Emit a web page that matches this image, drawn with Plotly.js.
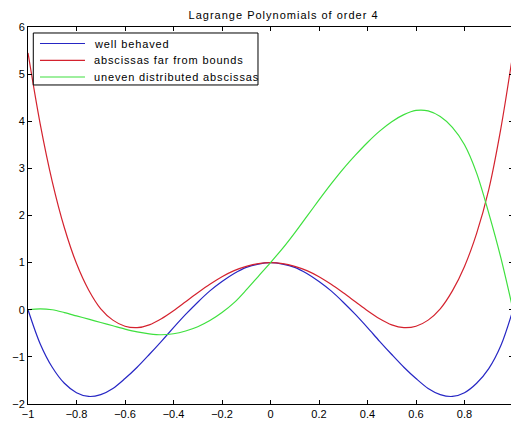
<!DOCTYPE html>
<html>
<head>
<meta charset="utf-8">
<script src="https://cdn.plot.ly/plotly-3.0.1.min.js"></script>
<style>
html, body { margin: 0; padding: 0; overflow: hidden; background: #ffffff; }
#chart { width: 514px; height: 424px; }
</style>
</head>
<body>
<div id="chart"></div>
<script>
var xValues = [-1, -0.95, -0.9, -0.85, -0.8, -0.75, -0.7, -0.65, -0.6, -0.55, -0.5, -0.45, -0.4, -0.35, -0.3, -0.25, -0.2, -0.15, -0.1, -0.05, 0,
               0.05, 0.1, 0.15, 0.2, 0.25, 0.3, 0.35, 0.4, 0.45, 0.5, 0.55, 0.6, 0.65, 0.7, 0.75, 0.8, 0.85, 0.9, 0.95, 1];

var wellBehaved = [0, -0.72, -1.22, -1.56, -1.76, -1.84, -1.80, -1.67, -1.46, -1.22, -0.95, -0.67, -0.38, -0.10, 0.16, 0.40, 0.60, 0.77, 0.90, 0.97, 1.0,
                   0.97, 0.90, 0.77, 0.60, 0.40, 0.16, -0.10, -0.38, -0.67, -0.95, -1.22, -1.46, -1.67, -1.80, -1.84, -1.76, -1.56, -1.25, -0.76, 0];

var farFromBounds = [5.45, 3.95, 2.72, 1.74, 0.98, 0.42, 0.02, -0.22, -0.35, -0.38, -0.32, -0.19, -0.02, 0.17, 0.36, 0.54, 0.70, 0.83, 0.92, 0.98, 1.0,
                     0.98, 0.92, 0.83, 0.70, 0.54, 0.36, 0.17, -0.02, -0.19, -0.32, -0.38, -0.35, -0.22, 0.02, 0.40, 0.92, 1.62, 2.55, 3.85, 5.45];

var unevenAbscissas = [0, 0.02, 0.0, -0.06, -0.13, -0.20, -0.27, -0.34, -0.41, -0.47, -0.51, -0.53, -0.51, -0.45, -0.36, -0.23, -0.06, 0.15, 0.42, 0.71, 1.0,
                       1.3, 1.63, 1.98, 2.33, 2.67, 2.99, 3.28, 3.55, 3.79, 3.99, 4.14, 4.23, 4.22, 4.10, 3.87, 3.50, 2.90, 2.05, 1.1, 0.0];

var seriesNames = ["well behaved", "abscissas far from bounds", "uneven distributed abscissas"];
var seriesColors = ["#2626c4", "#d4222e", "#3ee03e"];
var xTickValues = [-1, -0.8, -0.6, -0.4, -0.2, 0, 0.2, 0.4, 0.6, 0.8];
var xTickLabels = ["\u22121", "\u22120.8", "\u22120.6", "\u22120.4", "\u22120.2", "0", "0.2", "0.4", "0.6", "0.8"];
var yTickValues = [-2, -1, 0, 1, 2, 3, 4, 5, 6];
var titleText = "Lagrange Polynomials of order 4";

var ySeries = [wellBehaved, farFromBounds, unevenAbscissas];
var traces = ySeries.map(function (ys, i) {
  return {
    x: xValues,
    y: ys,
    type: "scatter",
    mode: "lines",
    name: seriesNames[i],
    showlegend: false,
    line: { color: seriesColors[i], width: 1.2, shape: "spline", smoothing: 0.9 }
  };
});

var fontFamily = "Liberation Sans, Arial, sans-serif";
var baseFont = { family: fontFamily, size: 11, color: "#000000" };

// Hand-drawn legend box (paper coordinates of the plot area)
var legendBox = { x0: 0.0109, x1: 0.4742, y0: 0.8462, y1: 0.9841 };
var legendLineX = [0.0247, 0.1175];
var legendTextX = 0.132;
var legendRowY = [0.9562, 0.9117, 0.8674];

var shapes = [{
  type: "rect", xref: "paper", yref: "paper",
  x0: legendBox.x0, x1: legendBox.x1, y0: legendBox.y0, y1: legendBox.y1,
  line: { color: "#000000", width: 1 }, fillcolor: "#ffffff", layer: "above"
}];
var annotations = [];
seriesNames.forEach(function (name, i) {
  shapes.push({
    type: "line", xref: "paper", yref: "paper",
    x0: legendLineX[0], x1: legendLineX[1], y0: legendRowY[i], y1: legendRowY[i],
    line: { color: seriesColors[i], width: 1.2 }, layer: "above"
  });
  annotations.push({
    xref: "paper", yref: "paper", x: legendTextX, y: legendRowY[i],
    xanchor: "left", yanchor: "middle", showarrow: false,
    text: '<span style="letter-spacing:0.85px">' + name + '</span>',
    font: { family: fontFamily, size: 11, color: "#000000" }
  });
});

var layout = {
  width: 514,
  height: 424,
  autosize: false,
  margin: { l: 28, r: 1, t: 27, b: 20 },
  paper_bgcolor: "#ffffff",
  plot_bgcolor: "#ffffff",
  font: baseFont,
  showlegend: false,
  title: {
    text: '<span style="letter-spacing:1px">' + titleText + '</span>',
    font: { family: fontFamily, size: 11, color: "#000000" },
    x: 0.527,
    xanchor: "center",
    xref: "paper",
    y: 0.965,
    yref: "container",
    yanchor: "middle"
  },
  xaxis: {
    range: [-1, 1],
    tickmode: "array",
    tickvals: xTickValues,
    ticktext: xTickLabels,
    ticks: "inside",
    ticklen: 4,
    tickwidth: 1,
    tickcolor: "#000000",
    showline: true,
    linecolor: "#000000",
    linewidth: 1,
    mirror: "ticks",
    showgrid: false,
    zeroline: false,
    tickfont: baseFont
  },
  yaxis: {
    range: [-2, 6],
    tickmode: "array",
    tickvals: yTickValues,
    ticks: "inside",
    ticklen: 4,
    tickwidth: 1,
    tickcolor: "#000000",
    showline: true,
    linecolor: "#000000",
    linewidth: 1,
    mirror: "ticks",
    showgrid: false,
    zeroline: false,
    tickfont: baseFont
  },
  shapes: shapes,
  annotations: annotations
};

Plotly.newPlot("chart", traces, layout, { staticPlot: true, displayModeBar: false });
</script>
</body>
</html>
